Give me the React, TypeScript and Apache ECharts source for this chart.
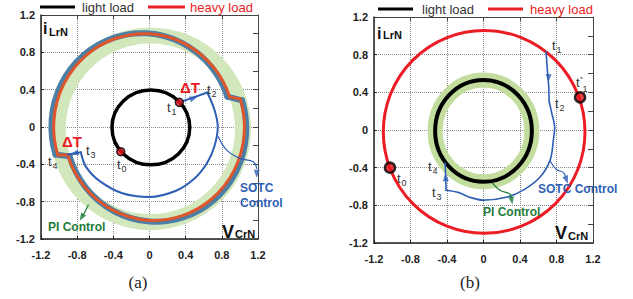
import React, { useEffect, useRef } from 'react';
import * as echarts from 'echarts';

const FONT = "'Liberation Sans', Arial, Helvetica, sans-serif";
const SERIF = "'Liberation Serif', 'Times New Roman', serif";

const tickValues = [-1.2, -0.8, -0.4, 0, 0.4, 0.8, 1.2];
const tickLabels = ['-1.2', '-0.8', '-0.4', '0', '0.4', '0.8', '1.2'];
const legendNames = ['light load', 'heavy load'];

// Closed orbits: [centerX, centerY, radiusX, radiusY]
// Arcs: [centerX, centerY, radiusX, radiusY, startDeg, endDeg] (travelled clockwise)

// ---------- panel (a) ----------
const lightLoadA = [[0.015, -0.005, 0.43, 0.4]];
const piBandA = [[0.01, -0.02, 1.025, 1.0]];
const heavyArcsA = [
  [-0.06, 0, 1.0, 1.0, 197.5, 18.7],
  [0.05, 0, 1.0, 1.0, 17.5, -162.5],
];
const heavyStepRightA = [[0.887, 0.32], [1.004, 0.3]];
const heavyStepLeftA = [[-0.904, -0.3], [-1.014, -0.3]];
const sotcBandArcsA = [
  [-0.085, 0.005, 1.0, 1.0, 197.5, 18.7],
  [0.07, -0.015, 1.0, 1.0, 17.5, -162.5],
];
const sotcBandStepRightA = [[0.862, 0.325], [1.024, 0.285]];
const sotcBandStepLeftA = [[-0.884, -0.315], [-1.039, -0.295]];
const sotcPulse1A = [[0.33, 0.264], [0.64, 0.37]];
const sotcArcA = [
  [0.64, 0.37], [0.72, 0.18], [0.755, 0], [0.72, -0.2], [0.64, -0.38], [0.5, -0.55], [0.3, -0.68],
  [0, -0.75], [-0.3, -0.71], [-0.55, -0.58], [-0.7, -0.43], [-0.76, -0.27],
];
const sotcPulse2A = [[-0.76, -0.27], [-0.9, -0.295]];
const sotcPointerA = [[0.761, -0.104], [0.854, -0.247], [1.0, -0.336], [1.148, -0.372], [1.186, -0.443]];
const piPointerA = [[-0.677, -0.836], [-0.713, -0.908], [-0.74, -0.95]];
const dotsA = [[0.33, 0.264], [-0.318, -0.265]];
const blueArrowsA = [[0.49, 0.31, -70], [-0.83, -0.283, 105], [1.186, -0.5, 180]];
const greenArrowsA = [[-0.75, -0.968, 150]];

// ---------- panel (b) ----------
const heavyLoadB = [[0.007, -0.02, 1.105, 1.076]];
const lightLoadB = [[0, -0.01, 0.53, 0.54]];
const piBandB = [[0, -0.01, 0.53, 0.54]];
const sotcPulseB = [[0.685, 0.832], [0.7, 0.64], [0.715, 0.46], [0.72, 0.3]];
const sotcArcB = [
  [0.72, 0.3], [0.75, 0.17], [0.78, 0.03], [0.765, -0.11], [0.73, -0.32], [0.62, -0.5], [0.45, -0.63],
  [0.25, -0.715], [0, -0.745], [-0.15, -0.715], [-0.27, -0.665], [-0.41, -0.64],
];
const sotcRiseB = [[-0.41, -0.64], [-0.42, -0.35]];
const sotcPointerB = [[0.73, -0.33], [0.8, -0.42], [0.875, -0.45], [0.9, -0.5]];
const piPointerB = [[0.1, -0.565], [0.18, -0.64], [0.29, -0.68], [0.305, -0.72]];
const dotsB = [[1.058, 0.347], [-1.025, -0.4]];
const blueArrowsB = [[0.712, 0.55, 178], [-0.415, -0.5, 2], [0.91, -0.53, 200]];
const greenArrowsB = [[0.31, -0.75, 190]];

const C = {
  black: '#000000',
  red: '#ec1c24',
  orange: '#e0562b',
  teal: '#4b7fa6',
  blue: '#2f5fb5',
  greenA: '#d3e7bc',
  greenB: '#c2dd9e',
  greenText: '#1e7b3c',
  axis: '#222222',
};

const fmt = (v: number) => {
  const i = tickValues.findIndex((t) => Math.abs(t - v) < 1e-6);
  return i >= 0 ? tickLabels[i] : '';
};

const axisLabel = { fontFamily: FONT, fontWeight: 'bold' as const, fontSize: 11, color: C.axis };

function xAxes(g: number) {
  return [
    {
      gridIndex: g, type: 'value', min: -1.2, max: 1.2, interval: 0.4, position: 'bottom',
      axisLine: { onZero: false, lineStyle: { color: C.axis, width: 1.5 } },
      axisTick: { inside: true, length: 3, lineStyle: { color: C.axis } },
      axisLabel: { ...axisLabel, margin: 10, formatter: fmt },
      splitLine: { show: true, lineStyle: { color: '#8a8a8a', type: 'dotted', width: 1 } },
    },
    {
      gridIndex: g, type: 'value', min: -1.2, max: 1.2, interval: 0.4, position: 'top',
      axisLine: { onZero: false, lineStyle: { color: '#444', width: 1 } },
      axisTick: { inside: true, length: 4, lineStyle: { color: '#444' } },
      axisLabel: { show: false }, splitLine: { show: false },
    },
  ];
}
function yAxes(g: number) {
  return [
    {
      gridIndex: g, type: 'value', min: -1.2, max: 1.2, interval: 0.4, position: 'left',
      axisLine: { onZero: false, lineStyle: { color: C.axis, width: 1.5 } },
      axisTick: { inside: true, length: 3, lineStyle: { color: C.axis } },
      axisLabel: { ...axisLabel, margin: 6, formatter: fmt },
      splitLine: { show: true, lineStyle: { color: '#8a8a8a', type: 'dotted', width: 1 } },
    },
    {
      gridIndex: g, type: 'value', min: -1.2, max: 1.2, interval: 0.2, position: 'right',
      axisLine: { onZero: false, lineStyle: { color: '#444', width: 1 } },
      axisTick: { inside: true, length: 5, lineStyle: { color: '#444' } },
      axisLabel: { show: false }, splitLine: { show: false },
    },
  ];
}

const line = (data: number[][], g: number, color: string, width: number, smooth: number | boolean, z: number) => ({
  type: 'line', data, xAxisIndex: g * 2, yAxisIndex: g * 2, showSymbol: false, symbol: 'none',
  smooth, silent: true, z, lineStyle: { color, width, cap: 'round', join: 'round' },
});

// closed elliptic orbit drawn through the axis scales
const orbit = (data: number[][], g: number, color: string, width: number, z: number) => ({
  type: 'custom', xAxisIndex: g * 2, yAxisIndex: g * 2, silent: true, z,
  dimensions: ['cx', 'cy', 'rx', 'ry'], encode: { x: 0, y: 1 }, data,
  renderItem: (_p: any, api: any) => {
    const c = api.coord([api.value(0), api.value(1)]);
    const rx = api.size([api.value(2), 0])[0];
    const ry = api.size([0, api.value(3)])[1];
    const d = `M ${c[0] + rx} ${c[1]} A ${rx} ${ry} 0 1 1 ${c[0] - rx} ${c[1]} A ${rx} ${ry} 0 1 1 ${c[0] + rx} ${c[1]} Z`;
    return { type: 'path', shape: { pathData: d }, style: { fill: 'none', stroke: color, lineWidth: width } };
  },
});

// clockwise elliptic arc drawn through the axis scales
const arcs = (data: number[][], g: number, color: string, width: number, z: number) => ({
  type: 'custom', xAxisIndex: g * 2, yAxisIndex: g * 2, silent: true, z,
  dimensions: ['cx', 'cy', 'rx', 'ry', 'a0', 'a1'], encode: { x: 0, y: 1 }, data,
  renderItem: (_p: any, api: any) => {
    const c = api.coord([api.value(0), api.value(1)]);
    const rx = api.size([api.value(2), 0])[0];
    const ry = api.size([0, api.value(3)])[1];
    const a0 = (api.value(4) * Math.PI) / 180;
    const a1 = (api.value(5) * Math.PI) / 180;
    const x0 = c[0] + rx * Math.cos(a0), y0 = c[1] - ry * Math.sin(a0);
    const x1 = c[0] + rx * Math.cos(a1), y1 = c[1] - ry * Math.sin(a1);
    const large = api.value(4) - api.value(5) > 180 ? 1 : 0;
    const d = `M ${x0} ${y0} A ${rx} ${ry} 0 ${large} 1 ${x1} ${y1}`;
    return { type: 'path', shape: { pathData: d }, style: { fill: 'none', stroke: color, lineWidth: width, lineCap: 'round' } };
  },
});

const arrows = (pts: number[][], g: number, color: string, z: number) => ({
  type: 'scatter', xAxisIndex: g * 2, yAxisIndex: g * 2, symbol: 'triangle', symbolSize: [6, 8],
  silent: true, z, itemStyle: { color },
  data: pts.map((p) => ({ value: [p[0], p[1]], symbolRotate: p[2] })),
});
const dots = (pts: number[][], g: number, size: number, bw: number) => ({
  type: 'scatter', xAxisIndex: g * 2, yAxisIndex: g * 2, symbol: 'circle', symbolSize: size,
  silent: true, z: 8, itemStyle: { color: '#e8141a', borderColor: '#000', borderWidth: bw }, data: pts,
});

const txt = (x: number, y: number, t: string, size: number, fill: string, weight = 'normal', align = 'left', family = FONT) => ({
  type: 'text', x, y, z: 100, silent: true,
  style: { text: t, fontSize: size, fontWeight: weight, fontFamily: family, fill, align, verticalAlign: 'middle', textAlign: align, textVerticalAlign: 'middle' },
});
const seg = (x1: number, y1: number, x2: number, y2: number, stroke: string, w: number) => ({
  type: 'line', z: 100, silent: true, shape: { x1, y1, x2, y2 }, style: { stroke, lineWidth: w },
});
const tLabel = (x: number, y: number, main: string, sub: string) => [
  txt(x, y, main, 13, '#333'),
  txt(x + (main.length > 1 ? 6.5 : 4.5), y + (main.length > 1 ? 6.5 : 4.5), sub, 9, '#333'),
];

const graphics = [
  // legend (a)
  seg(40, 7, 75, 7, C.black, 3), txt(82, 7, legendNames[0], 13, '#333'),
  seg(148, 7, 185, 7, C.red, 3), txt(190, 7, legendNames[1], 13, C.red),
  // legend (b)
  seg(378, 9, 413, 9, C.black, 3), txt(422, 9, legendNames[0], 13, '#333'),
  seg(488, 9, 523, 9, C.red, 3), txt(530, 9, legendNames[1], 13, C.red),
  // axis names (a)
  txt(43, 28, 'i', 16, '#111', 'bold'), txt(49, 31.5, 'LrN', 11, '#111', 'bold'),
  txt(222, 231.5, 'V', 18, '#111', 'bold'), txt(235, 234, 'CrN', 11, '#111', 'bold'),
  // axis names (b)
  txt(377, 33, 'i', 16, '#111', 'bold'), txt(383, 35, 'LrN', 11, '#111', 'bold'),
  txt(555, 232.5, 'V', 18, '#111', 'bold'), txt(568, 236, 'CrN', 11, '#111', 'bold'),
  // annotations (a)
  txt(180, 87.5, 'ΔT', 15, C.red, 'bold'), txt(62, 141.5, 'ΔT', 15, C.red, 'bold'),
  ...tLabel(167, 107.5, 't', '1'), ...tLabel(207, 89, 't', '2'), ...tLabel(117, 164.5, 't', '0'),
  ...tLabel(86, 150, 't', '3'), ...tLabel(48, 161, 't', '4'),
  txt(240, 188, 'SOTC', 12, C.blue, 'bold'), txt(240, 203, 'Control', 12, C.blue, 'bold'),
  txt(48, 227, 'PI Control', 12, C.greenText, 'bold'),
  // annotations (b)
  ...tLabel(552, 45, 't', '1'), ...tLabel(576, 82, 't`', '1'), ...tLabel(555, 103, 't', '2'),
  ...tLabel(428, 166, 't', '4'), ...tLabel(432, 192, 't', '3'), ...tLabel(397, 178, 't', '0'),
  txt(538, 189, 'SOTC Control', 12, C.blue, 'bold'),
  txt(483, 212, 'PI Control', 12, C.greenText, 'bold'),
  // captions
  txt(138, 282, '(a)', 17, '#222', 'normal', 'center', SERIF),
  txt(470, 282, '(b)', 17, '#222', 'normal', 'center', SERIF),
];

const S = 0.35;
const option = {
  animation: false,
  backgroundColor: '#ffffff',
  grid: [
    { left: 41, top: 15, width: 217, height: 224 },
    { left: 374, top: 17, width: 219, height: 226 },
  ],
  xAxis: [...xAxes(0), ...xAxes(1)],
  yAxis: [...yAxes(0), ...yAxes(1)],
  graphic: graphics,
  series: [
    // (a)
    orbit(piBandA, 0, C.greenA, 16, 3),
    arcs(sotcBandArcsA, 0, C.teal, 6, 4),
    line(sotcBandStepRightA, 0, C.teal, 6, false, 4),
    line(sotcBandStepLeftA, 0, C.teal, 6, false, 4),
    arcs(heavyArcsA, 0, C.orange, 3, 5),
    line(heavyStepRightA, 0, C.orange, 3, false, 5),
    line(heavyStepLeftA, 0, C.orange, 3, false, 5),
    orbit(lightLoadA, 0, C.black, 3.5, 5),
    line(sotcPulse1A, 0, C.blue, 2, false, 6),
    line(sotcArcA, 0, C.blue, 2, S, 6),
    line(sotcPulse2A, 0, C.blue, 2, false, 6),
    line(sotcPointerA, 0, C.blue, 1.2, 0.4, 6),
    line(piPointerA, 0, C.greenText, 1.2, 0.4, 6),
    arrows(blueArrowsA, 0, C.blue, 7),
    arrows(greenArrowsA, 0, C.greenText, 7),
    dots(dotsA, 0, 8, 1.5),
    // (b)
    orbit(piBandB, 1, C.greenB, 15, 3),
    orbit(heavyLoadB, 1, C.red, 3, 5),
    orbit(lightLoadB, 1, C.black, 4, 5),
    line(sotcPulseB, 1, C.blue, 1.6, false, 6),
    line(sotcArcB, 1, C.blue, 1.6, S, 6),
    line(sotcRiseB, 1, C.blue, 1.6, false, 6),
    line(sotcPointerB, 1, C.blue, 1.2, 0.4, 6),
    line(piPointerB, 1, C.greenText, 1.2, 0.4, 6),
    arrows(blueArrowsB, 1, C.blue, 7),
    arrows(greenArrowsB, 1, C.greenText, 7),
    dots(dotsB, 1, 10, 2.5),
  ],
};

export default function App() {
  const ref = useRef<HTMLDivElement>(null);
  useEffect(() => {
    if (!ref.current) return;
    const chart = echarts.init(ref.current, null, { renderer: 'svg' });
    chart.setOption(option as any);
    return () => chart.dispose();
  }, []);
  return (
    <div
      ref={ref}
      style={{ position: 'fixed', left: 0, top: 0, width: 633, height: 299, background: '#fff' }}
    />
  );
}
